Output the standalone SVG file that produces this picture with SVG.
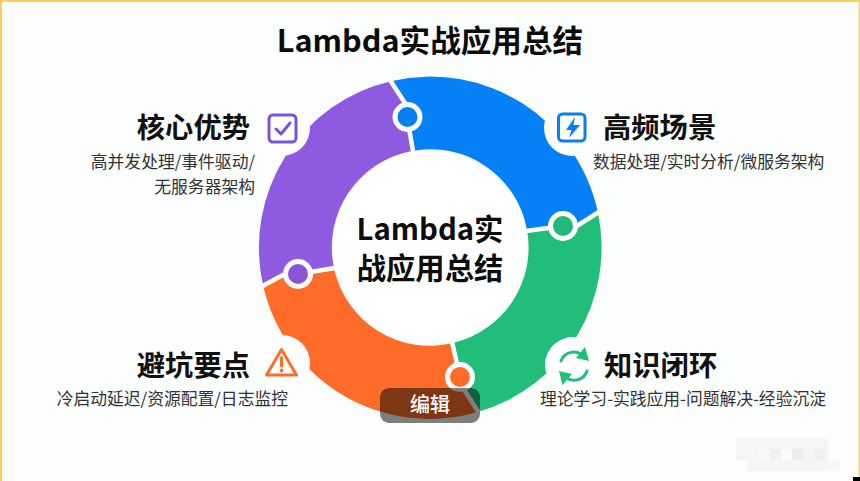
<svg xmlns="http://www.w3.org/2000/svg" width="860" height="481" viewBox="0 0 860 481">
<style>
text{font-family:"Noto Sans CJK SC","Noto Sans",sans-serif}
.h{font-size:28.300px;font-weight:700;fill:#111}
.s{font-size:16.800px;fill:#333}
.t{font-weight:700;fill:#0c0c0c}
.e{text-anchor:end}
.m{text-anchor:middle}
.bite{fill:#fff}
.ic{fill:none;stroke-width:3;stroke-linejoin:round;stroke-linecap:round}
.hub{fill:#fff}
</style>
<rect width="860" height="481" fill="#fcfdfd"/>
<g id="frame" fill="#ffcf5c">
<rect width="860" height="2"/><rect width="2" height="481"/><rect x="858.500" width="1.500" height="477"/>
</g>
<rect x="853" y="477" width="7" height="4" fill="#000"/>
<g id="mosaic">
<rect x="736" y="438" width="92" height="33" fill="#f5f5f5"/>
<rect x="759" y="449" width="11" height="11" fill="#f8f8f8"/>
<rect x="770" y="449" width="11" height="11" fill="#f0f1f1"/>
<rect x="781" y="449" width="11" height="11" fill="#fbfbfb"/>
<rect x="792" y="449" width="11" height="11" fill="#ebeded"/>
<rect x="814" y="449" width="11" height="11" fill="#f0f0f0"/>
<rect x="736" y="460" width="11" height="11" fill="#fcfdfd"/>
<rect x="828" y="460" width="12" height="11" fill="#f7f7f7"/>
</g>
<g id="title"><text class="t m" x="430" y="52" font-size="30.600">Lambda实战应用总结</text></g>
<g id="seg-blue"><path fill="#0680f6" d="M392,81A171,171 0 0 1 598,213L577,226L563,226L527,230A98,98 0 0 0 412,151L407,117L405,103Z"/></g>
<g id="seg-green"><path fill="#21bd7b" d="M598,213A171,171 0 0 1 478,412L463,388L460,377L453,343A98,98 0 0 0 527,230L563,226L577,226Z"/></g>
<g id="seg-orange"><path fill="#ff6c29" d="M478,412A171,171 0 0 1 263,285L283,275L298,274L334,268A98,98 0 0 0 453,343L460,377L463,388Z"/></g>
<g id="seg-purple"><path fill="#8e5ae0" d="M263,285A171,171 0 0 1 392,81L405,103L407,117L412,151A98,98 0 0 0 334,268L298,274L283,275Z"/></g>
<g id="connectors" fill="none" stroke="#fff" stroke-width="4.500">
<polyline points="388,77 405,103 407,117 413,151"/>
<polyline points="602,210 577,226 563,226 526,231"/>
<polyline points="481,416 463,388 460,377 452,342"/>
<polyline points="259,288 283,275 298,274 335,268"/>
<circle cx="407.500" cy="117" r="12.500" fill="#0680f0" stroke-width="5"/>
<circle cx="563" cy="226" r="12.500" fill="#1fb97a" stroke-width="5"/>
<circle cx="460" cy="377" r="12.500" fill="#ff6c29" stroke-width="5"/>
<circle cx="298" cy="274" r="12.500" fill="#8a56d6" stroke-width="5"/>
</g>
<g id="hub"><circle class="hub" cx="430" cy="247.500" r="96"/>
<text class="t m" font-size="29.300"><tspan x="430" y="240">Lambda实</tspan><tspan x="430" y="279">战应用总结</tspan></text></g>
<g id="node-advantage">
<circle class="bite" cx="282" cy="128" r="28"/>
<rect class="ic" x="269" y="115" width="27" height="27" rx="4" stroke="#7a52e0"/>
<path class="ic" d="M276,129L281,134L290,123" stroke="#7a52e0"/>
<text class="h e" x="250" y="138">核心优势</text>
<text class="s e" x="255" y="168">高并发处理/事件驱动/</text>
<text class="s e" x="255" y="193">无服务器架构</text>
</g>
<g id="node-scene">
<circle class="bite" cx="572" cy="128" r="28"/>
<rect class="ic" x="558.500" y="114" width="26.500" height="27" rx="4" stroke="#0a7ff5"/>
<path d="M575,117L566,130H571.500L569,138L580,125H573.500Z" fill="#0a7ff5"/>
<text class="h" x="603" y="138">高频场景</text>
<text class="s" x="593" y="168">数据处理/实时分析/微服务架构</text>
</g>
<g id="node-pitfall">
<circle class="bite" cx="282" cy="363" r="28"/>
<path class="ic" d="M281.500,349.500L296.500,375H266.500Z" stroke="#ff6c29" stroke-width="3.500"/>
<path class="ic" d="M281.500,357.500V366" stroke="#ff6c29" stroke-width="3.500"/>
<circle cx="281.500" cy="370.500" r="1.900" fill="#ff6c29"/>
<text class="h e" x="250" y="376">避坑要点</text>
<text class="s e" x="288" y="405">冷启动延迟/资源配置/日志监控</text>
</g>
<g id="node-loop">
<circle class="bite" cx="573" cy="365" r="28"/>
<path class="ic" d="M561,361A13.500,13.500 0 0 1 582,355" stroke="#21bd7b" stroke-width="3.500"/>
<path class="ic" d="M587,371A13.500,13.500 0 0 1 566,377.500" stroke="#21bd7b" stroke-width="3.500"/>
<path d="M585,347L589,361L576,358Z" fill="#21bd7b"/>
<path d="M562.500,385L559,371L572,374Z" fill="#21bd7b"/>
<text class="h" x="604" y="376">知识闭环</text>
<text class="s" x="540" y="405">理论学习-实践应用-问题解决-经验沉淀</text>
</g>
<g id="edit">
<rect x="380" y="388" width="100" height="35" rx="9" fill="#000" fill-opacity="0.5"/>
<text class="m" x="430" y="412" font-size="20" font-weight="500" fill="#fff">编辑</text>
</g>
</svg>
